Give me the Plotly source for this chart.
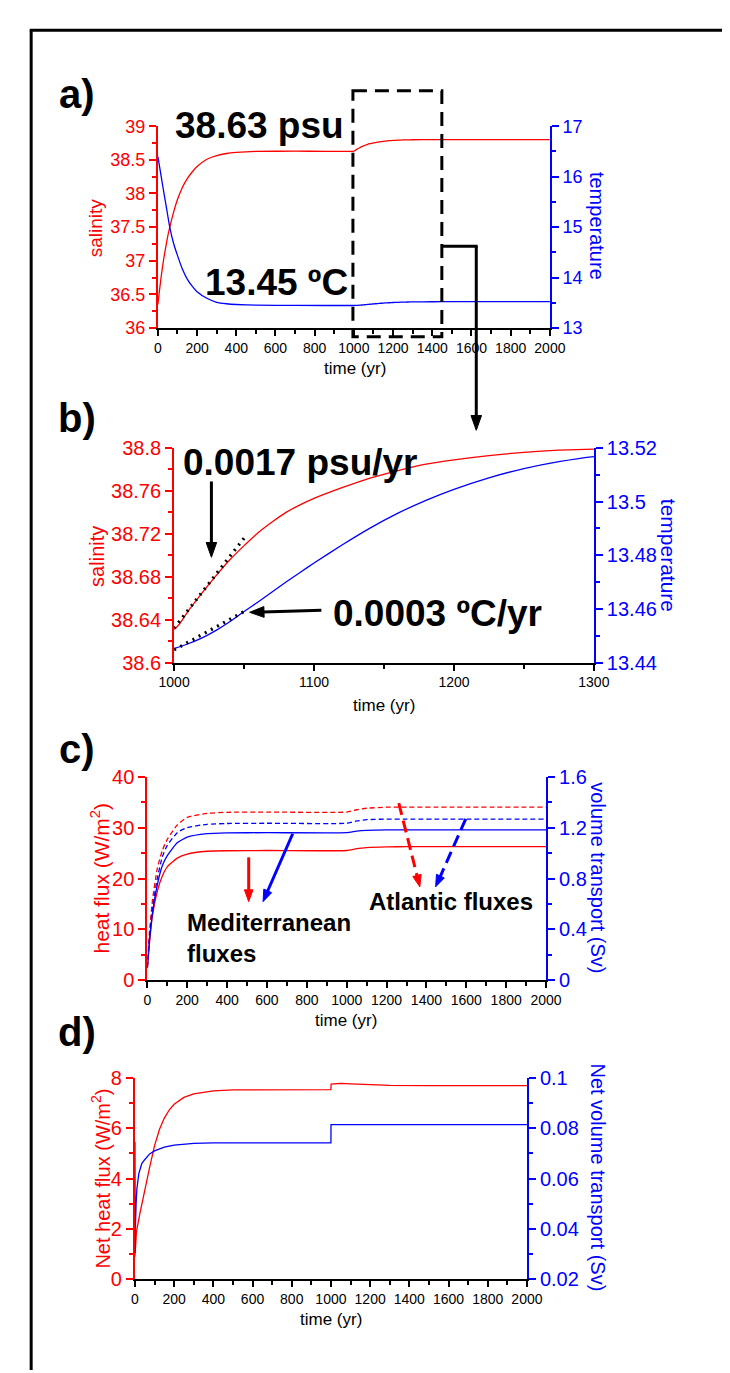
import math
import plotly.graph_objects as go

W, H = 730, 1373

# ---------------- data ----------------
# panel a / b : salinity & temperature
t_ab = [0, 10, 20, 30, 40, 50, 60, 80, 100, 125, 150, 175, 200, 250, 300, 350, 400, 500, 700, 1000,
        1010, 1020, 1030, 1040, 1050, 1060, 1070, 1080, 1090, 1100, 1120, 1140, 1160, 1180,
        1200, 1225, 1250, 1275, 1300, 1400, 1500, 2000]
salinity = [36.35, 36.60, 36.83, 37.03, 37.20, 37.36, 37.49, 37.72, 37.91, 38.09, 38.22, 38.32,
            38.40, 38.51, 38.565, 38.595, 38.61, 38.625, 38.63, 38.631,
            38.648, 38.665, 38.681, 38.696, 38.709, 38.721, 38.731, 38.740, 38.747, 38.753,
            38.763, 38.772, 38.779, 38.785, 38.789, 38.793, 38.796, 38.798, 38.799, 38.80,
            38.80, 38.80]
temperature = [16.40, 16.17, 15.93, 15.70, 15.47, 15.24, 15.01, 14.68, 14.44, 14.17, 13.97,
               13.83, 13.72, 13.59, 13.51, 13.48, 13.465, 13.452, 13.447, 13.4453,
               13.4470, 13.4492, 13.4520, 13.4553, 13.4590, 13.4626, 13.4663, 13.4700, 13.4736,
               13.4771, 13.4838, 13.4901, 13.4957, 13.5005, 13.5046, 13.5089, 13.5123, 13.5149,
               13.5168, 13.520, 13.521, 13.521]
# linear fits shown in panel b
fit_t = [1000, 1050]
fit_salinity = [38.632, 38.716]
fit_temperature = [13.4447, 13.4590]

# panel c : heat flux (W/m2) and volume transport (Sv)
t_c = [0, 10, 25, 50, 75, 100, 150, 200, 300, 400, 600, 1000, 1050, 1100, 1200, 1300, 2000]
med_heat = [2.5, 7.0, 12.5, 17.5, 20.5, 22.3, 24.0, 24.8, 25.35, 25.45, 25.5, 25.5, 25.85,
            26.05, 26.2, 26.25, 26.25]
atl_heat = [2.5, 9.0, 15.5, 22.0, 25.5, 27.7, 30.5, 32.0, 32.8, 33.0, 33.05, 33.05, 33.5,
            33.8, 34.0, 34.0, 34.0]
med_vol = [0.10, 0.30, 0.52, 0.75, 0.90, 0.98, 1.08, 1.125, 1.152, 1.158, 1.16, 1.16, 1.172,
           1.178, 1.182, 1.182, 1.182]
atl_vol = [0.10, 0.33, 0.56, 0.80, 0.97, 1.06, 1.16, 1.20, 1.226, 1.232, 1.234, 1.234, 1.252,
           1.262, 1.267, 1.267, 1.267]

# panel d : net heat flux and net volume transport
t_d_heat = [0, 3, 8, 25, 50, 75, 100, 125, 150, 175, 200, 250, 300, 400, 500, 1000, 1001, 1050,
            1100, 1200, 1300, 1500, 2000]
net_heat = [0.9, 1.5, 1.9, 2.6, 3.55, 4.45, 5.3, 5.95, 6.4, 6.72, 6.95, 7.22, 7.36, 7.48, 7.52,
            7.53, 7.75, 7.78, 7.76, 7.72, 7.70, 7.69, 7.69]
t_d_vol = [0, 1, 3, 6, 10, 20, 35, 50, 75, 100, 150, 200, 300, 400, 1000, 1000.5, 2000]
net_vol = [0.0745, 0.0306, 0.042, 0.050, 0.056, 0.062, 0.066, 0.0675, 0.0698, 0.071, 0.0725,
           0.0733, 0.0740, 0.0742, 0.0742, 0.0814, 0.0814]

RED = "#ff0000"
BLUE = "#0000ff"
FONT = "Liberation Sans, Arial, Helvetica, sans-serif"


def px(x):
    return x / W


def py(y):
    return 1 - y / H


fig = go.Figure()
LW = 1.3
SPL = dict(shape="spline", smoothing=0.5)

# panel a
fig.add_trace(go.Scatter(x=t_ab, y=salinity, mode="lines", line=dict(color=RED, width=LW, **SPL), xaxis="x", yaxis="y"))
fig.add_trace(go.Scatter(x=t_ab, y=temperature, mode="lines", line=dict(color=BLUE, width=LW, **SPL), xaxis="x", yaxis="y2"))
# panel b
fig.add_trace(go.Scatter(x=t_ab, y=salinity, mode="lines", line=dict(color=RED, width=LW, **SPL), xaxis="x2", yaxis="y3"))
fig.add_trace(go.Scatter(x=t_ab, y=temperature, mode="lines", line=dict(color=BLUE, width=LW, **SPL), xaxis="x2", yaxis="y4"))
fig.add_trace(go.Scatter(x=fit_t, y=fit_salinity, mode="lines", line=dict(color="black", width=3.2, dash="2px,5px"), xaxis="x2", yaxis="y3"))
fig.add_trace(go.Scatter(x=fit_t, y=fit_temperature, mode="lines", line=dict(color="black", width=3.2, dash="2px,5px"), xaxis="x2", yaxis="y4"))
# panel c
fig.add_trace(go.Scatter(x=t_c, y=med_heat, mode="lines", line=dict(color=RED, width=LW, **SPL), xaxis="x3", yaxis="y5"))
fig.add_trace(go.Scatter(x=t_c, y=atl_heat, mode="lines", line=dict(color=RED, width=LW, dash="5px,3px", **SPL), xaxis="x3", yaxis="y5"))
fig.add_trace(go.Scatter(x=t_c, y=med_vol, mode="lines", line=dict(color=BLUE, width=LW, **SPL), xaxis="x3", yaxis="y6"))
fig.add_trace(go.Scatter(x=t_c, y=atl_vol, mode="lines", line=dict(color=BLUE, width=LW, dash="5px,3px", **SPL), xaxis="x3", yaxis="y6"))
# panel d
fig.add_trace(go.Scatter(x=t_d_heat, y=net_heat, mode="lines", line=dict(color=RED, width=LW), xaxis="x4", yaxis="y7"))
fig.add_trace(go.Scatter(x=t_d_vol, y=net_vol, mode="lines", line=dict(color=BLUE, width=LW), xaxis="x4", yaxis="y8"))


def xax(x0, x1, yanchor, rng, dtick, mdtick, fs):
    return dict(domain=[px(x0), px(x1)], anchor=yanchor, range=rng, showgrid=False, zeroline=False,
                showline=True, linecolor="black", linewidth=2, ticks="outside", ticklen=6,
                tickwidth=2, tickcolor="black", tickmode="linear", tick0=rng[0], dtick=dtick,
                minor=dict(dtick=mdtick, ticks="outside", ticklen=4, tickwidth=2, tickcolor="black"),
                tickfont=dict(family=FONT, size=fs, color="black"), fixedrange=True)


def yax(y0, y1, xanchor, rng, dtick, mdtick, color, fs, side="left", overlay=None):
    d = dict(anchor=xanchor, range=rng, showgrid=False, zeroline=False, side=side,
             showline=True, linecolor=color, linewidth=2, ticks="outside", ticklen=7,
             tickwidth=2, tickcolor=color, tickmode="linear", tick0=rng[0], dtick=dtick,
             minor=dict(dtick=mdtick, ticks="outside", ticklen=4, tickwidth=2, tickcolor=color),
             tickfont=dict(family=FONT, size=fs, color=color), fixedrange=True)
    if overlay:
        d["overlaying"] = overlay
    else:
        d["domain"] = [py(y1), py(y0)]
    return d


layout = dict(
    width=W, height=H, margin=dict(l=0, r=0, t=0, b=0), paper_bgcolor="white", plot_bgcolor="white",
    showlegend=False,
    xaxis=xax(140, 550, "y", [0, 2000], 200, 100, 14),
    yaxis=yax(109, 314, "x", [36, 39], 0.5, 0.25, RED, 18),
    yaxis2=yax(109, 314, "x", [13, 17], 1, 0.5, BLUE, 18, "right", "y"),
    xaxis2=xax(157, 596, "y3", [1000, 1300], 100, 50, 14),
    yaxis3=yax(436, 654, "x2", [38.6, 38.8], 0.04, 0.02, RED, 20),
    yaxis4=yax(436, 654, "x2", [13.44, 13.52], 0.02, 0.01, BLUE, 20, "right", "y3"),
    xaxis3=xax(129, 546, "y5", [0, 2000], 200, 100, 14),
    yaxis5=yax(770, 977, "x3", [0, 40], 10, 5, RED, 20),
    yaxis6=yax(770, 977, "x3", [0, 1.6], 0.4, 0.2, BLUE, 20, "right", "y5"),
    xaxis4=xax(116, 526, "y7", [0, 2000], 200, 100, 14),
    yaxis7=yax(1076, 1281, "x4", [0, 8], 2, 1, RED, 20),
    yaxis8=yax(1076, 1281, "x4", [0.02, 0.1], 0.02, 0.01, BLUE, 20, "right", "y7"),
)
fig.update_layout(**layout)

ann = []
shapes = []


def text(x, y, s, size, color="black", angle=0, bold=False, xanchor="center", align="center"):
    ann.append(dict(x=px(x), y=py(y), xref="paper", yref="paper", text=("<b>%s</b>" % s) if bold else s,
                    showarrow=False, textangle=angle, xanchor=xanchor, yanchor="middle", align=align,
                    font=dict(family=FONT, size=size, color=color)))


def arrow(tail, tip, color="black", width=3, headlen=13, headw=10, dash=None):
    dx, dy = tip[0] - tail[0], tip[1] - tail[1]
    L = math.hypot(dx, dy)
    ux, uy = dx / L, dy / L
    bx, by = tip[0] - ux * headlen, tip[1] - uy * headlen
    nx, ny = -uy, ux
    line = dict(color=color, width=width)
    if dash:
        line["dash"] = dash
    shapes.append(dict(type="line", xref="paper", yref="paper", x0=px(tail[0]), y0=py(tail[1]),
                       x1=px(bx + ux * 1), y1=py(by + uy * 1), line=line))
    p1 = (bx + nx * headw / 2, by + ny * headw / 2)
    p2 = (bx - nx * headw / 2, by - ny * headw / 2)
    path = "M %f %f L %f %f L %f %f Z" % (px(tip[0]), py(tip[1]), px(p1[0]), py(p1[1]), px(p2[0]), py(p2[1]))
    shapes.append(dict(type="path", xref="paper", yref="paper", path=path, fillcolor=color,
                       line=dict(color=color, width=1)))


# panel letters
for lab, yy in [("a)", 76), ("b)", 405), ("c)", 742), ("d)", 1030)]:
    text(55, yy, lab, 40, bold=True)

# axis titles
text(75, 212, "salinity", 19, RED, -90)
text(600, 210, "temperature", 20, BLUE, 90)
text(346, 355, "time (yr)", 17)
text(77, 546, "salinity", 20, RED, -90)
text(674, 545, "temperature", 21, BLUE, 90)
text(377, 698, "time (yr)", 17)
text(80, 873, "heat flux (W/m<sup>2</sup>)", 21, RED, -90)
text(600, 873, "volume transport (Sv)", 20, BLUE, 90)
text(337, 1018, "time (yr)", 17)
text(80, 1178, "Net heat flux (W/m<sup>2</sup>)", 20, RED, -90)
text(600, 1177, "Net volume transport (Sv)", 20, BLUE, 90)
text(321, 1322, "time (yr)", 17)

# big annotations
text(246, 108, "38.63 psu", 37, bold=True)
text(264, 268, "13.45 ºC", 37, bold=True)
text(289, 451, "0.0017 psu/yr", 37, bold=True)
text(432, 604, "0.0003 ºC/yr", 37, bold=True)
text(168, 934, "Mediterranean<br>fluxes", 24, bold=True, xanchor="left", align="left")
text(447, 897, "Atlantic fluxes", 24, bold=True)

# zoom box + connector (panel a -> panel b)
shapes.append(dict(type="rect", xref="paper", yref="paper", x0=px(344), x1=px(437), y0=py(73), y1=py(323),
                   line=dict(color="black", width=3, dash="14px,8px")))
shapes.append(dict(type="line", xref="paper", yref="paper", x0=px(437), x1=px(474.5), y0=py(231), y1=py(231),
                   line=dict(color="black", width=3)))
arrow((473, 231), (473, 418), headlen=15, headw=11)

# arrows panel b
arrow((196, 470), (196, 547), headlen=15, headw=11)
arrow((311, 601), (236, 603), headlen=15, headw=11)

# arrows panel c
arrow((235, 852), (235, 897), color=RED, headlen=12, headw=9)
arrow((281, 828), (250, 897), color=BLUE, headlen=12, headw=9)
arrow((392, 797), (414, 882), color=RED, headlen=12, headw=9, dash="12px,6px")
arrow((462, 813), (430.5, 882), color=BLUE, headlen=12, headw=9, dash="12px,6px")

# frame
shapes.append(dict(type="line", xref="paper", yref="paper", x0=px(7.5), x1=px(7.5), y0=py(11.5), y1=0,
                   line=dict(color="black", width=3)))
shapes.append(dict(type="line", xref="paper", yref="paper", x0=px(6), x1=1, y0=py(11.5), y1=py(11.5),
                   line=dict(color="black", width=3)))

fig.update_layout(annotations=ann, shapes=shapes)
fig.write_html("out.html")
